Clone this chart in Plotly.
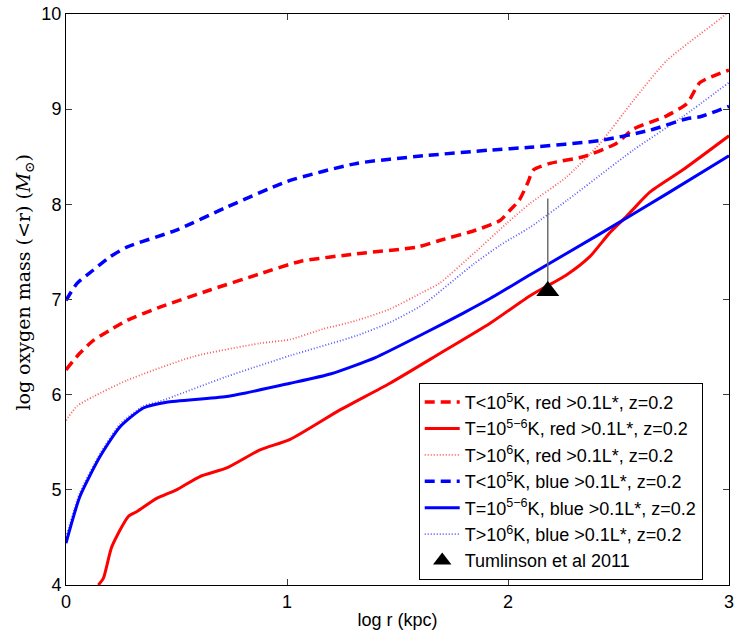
import plotly.graph_objects as go

# ---- data ----
rd_x = [0, 0.06, 0.124, 0.2, 0.275, 0.425, 0.652, 0.878, 1.059, 1.315, 1.586, 1.69, 1.856, 1.964, 2.01, 2.05, 2.09, 2.115, 2.19, 2.34, 2.49, 2.567, 2.718, 2.81, 2.869, 3.0]
rd_y = [6.26, 6.43, 6.57, 6.68, 6.78, 6.92, 7.10, 7.27, 7.40, 7.48, 7.55, 7.62, 7.73, 7.83, 7.94, 8.04, 8.23, 8.36, 8.43, 8.50, 8.64, 8.79, 8.93, 9.06, 9.28, 9.41]

rs_x = [0.146, 0.169, 0.207, 0.282, 0.32, 0.41, 0.5, 0.606, 0.727, 0.878, 1.014, 1.24, 1.466, 1.69, 1.919, 2.10, 2.266, 2.37, 2.46, 2.53, 2.567, 2.643, 2.79, 3.0]
rs_y = [4.0, 4.07, 4.40, 4.72, 4.77, 4.91, 5.0, 5.14, 5.23, 5.42, 5.53, 5.84, 6.12, 6.43, 6.75, 7.04, 7.26, 7.45, 7.70, 7.86, 7.95, 8.13, 8.36, 8.72]

rdot_x = [0, 0.05, 0.124, 0.275, 0.576, 0.878, 1.014, 1.164, 1.315, 1.466, 1.617, 1.69, 1.843, 1.994, 2.10, 2.266, 2.416, 2.567, 2.718, 2.96, 3.0]
rdot_y = [5.73, 5.88, 5.98, 6.15, 6.40, 6.54, 6.58, 6.69, 6.78, 6.90, 7.08, 7.17, 7.48, 7.80, 8.01, 8.29, 8.64, 9.09, 9.51, 9.95, 10.03]

bd_x = [0, 0.05, 0.124, 0.2, 0.275, 0.5, 0.727, 1.0, 1.315, 1.617, 1.919, 2.10, 2.416, 2.643, 2.81, 2.869, 3.0]
bd_y = [6.99, 7.17, 7.31, 7.45, 7.55, 7.73, 7.97, 8.24, 8.43, 8.51, 8.57, 8.60, 8.67, 8.78, 8.90, 8.92, 9.03]

bs_x = [0, 0.063, 0.154, 0.244, 0.35, 0.455, 0.727, 1.014, 1.2, 1.4, 1.617, 1.8, 1.919, 2.10, 2.416, 2.718, 3.0]
bs_y = [4.44, 4.93, 5.35, 5.66, 5.86, 5.92, 5.98, 6.12, 6.22, 6.39, 6.64, 6.86, 7.01, 7.26, 7.69, 8.11, 8.51]

bdot_x = [0, 0.063, 0.154, 0.244, 0.35, 0.425, 0.727, 1.014, 1.315, 1.466, 1.617, 1.843, 1.964, 2.10, 2.266, 2.567, 2.79, 3.0]
bdot_y = [4.5, 4.97, 5.38, 5.69, 5.88, 5.93, 6.19, 6.41, 6.62, 6.76, 6.95, 7.37, 7.57, 7.76, 8.04, 8.57, 8.92, 9.28]

obs_x = [2.18]
obs_y = [7.09]
obs_err_plus = [0.97]
obs_err_minus = [0.0]

names = [
    "T&lt;10<sup>5</sup>K, red &gt;0.1L*, z=0.2",
    "T=10<sup>5\u22126</sup>K, red &gt;0.1L*, z=0.2",
    "T&gt;10<sup>6</sup>K, red &gt;0.1L*, z=0.2",
    "T&lt;10<sup>5</sup>K, blue &gt;0.1L*, z=0.2",
    "T=10<sup>5\u22126</sup>K, blue &gt;0.1L*, z=0.2",
    "T&gt;10<sup>6</sup>K, blue &gt;0.1L*, z=0.2",
    "Tumlinson et al 2011",
]

x_ticks = [0, 1, 2, 3]
y_ticks = [4, 5, 6, 7, 8, 9, 10]

RED = "rgb(255,0,0)"
BLUE = "rgb(0,0,255)"
RED_L = "rgba(255,0,0,0.65)"
BLUE_L = "rgba(0,0,255,0.65)"

fig = go.Figure()
series = [
    (rd_x, rd_y, RED, 3.5, "10px,6px"),
    (rs_x, rs_y, RED, 3, "solid"),
    (rdot_x, rdot_y, RED_L, 1.8, "1px,2px"),
    (bd_x, bd_y, BLUE, 3.5, "10px,6px"),
    (bs_x, bs_y, BLUE, 3, "solid"),
    (bdot_x, bdot_y, BLUE_L, 1.8, "1px,2px"),
]
for (xs, ys, col, w, dash), nm in zip(series, names[:6]):
    fig.add_trace(go.Scatter(x=xs, y=ys, mode="lines", name=nm,
                             line=dict(color=col, width=w, dash=dash, shape="spline", smoothing=0.6)))

fig.add_trace(go.Scatter(
    x=obs_x, y=obs_y, mode="markers", name=names[6],
    marker=dict(symbol="triangle-up", size=20, color="black"),
    error_y=dict(type="data", symmetric=False, array=obs_err_plus, arrayminus=obs_err_minus,
                 color="rgb(110,110,110)", thickness=1.5, width=0),
))

SANS = "Liberation Sans, Arial, sans-serif"
axis_common = dict(
    showline=True, linecolor="black", linewidth=1, mirror="ticks",
    ticks="inside", ticklen=6, tickcolor="rgb(60,60,60)", tickwidth=1,
    showgrid=False, zeroline=False, automargin=False, ticklabeloverflow="allow",
    tickfont=dict(family=SANS, size=18, color="black"),
)

fig.update_xaxes(range=[0, 3], tickvals=x_ticks, ticktext=[str(v) for v in x_ticks],
                 title=dict(text="log r (kpc)", font=dict(family=SANS, size=18, color="black"), standoff=2),
                 **axis_common)
fig.update_yaxes(range=[4, 10], tickvals=y_ticks, ticktext=[str(v) for v in y_ticks],
                 **axis_common)

fig.add_annotation(
    text="log oxygen mass (&lt;r) (<i>M</i><sub>\u2299</sub>)",
    xref="paper", yref="paper", x=-0.063, y=0.53, xanchor="center", yanchor="middle",
    textangle=-90, showarrow=False,
    font=dict(family="DejaVu Serif, Liberation Serif, serif", size=19, color="black"),
)

fig.update_layout(
    width=734, height=635,
    margin=dict(l=66, r=5, t=14, b=50),
    paper_bgcolor="white", plot_bgcolor="white",
    showlegend=True,
    legend=dict(
        x=0.532, y=0.009, xanchor="left", yanchor="bottom",
        bgcolor="white", bordercolor="black", borderwidth=1,
        font=dict(family=SANS, size=18, color="black"),
        itemwidth=35, tracegroupgap=0,
    ),
)

fig.write_html("out.html", config={"displayModeBar": False},
               post_script="document.body.style.margin='0';document.body.style.overflow='hidden';")
